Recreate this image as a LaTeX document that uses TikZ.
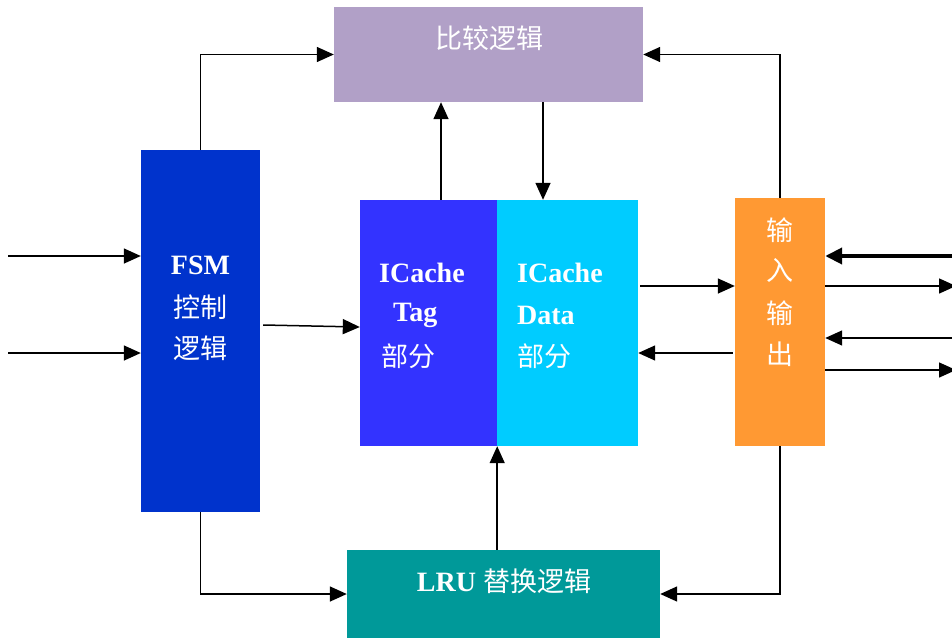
\documentclass[tikz,border=0pt]{standalone}
\usepackage{fontspec}
\setmainfont{Liberation Serif}
\newfontfamily\cjk{Noto Sans CJK SC}
\usetikzlibrary{positioning, arrows.meta, calc}
\definecolor{cmpFill}{RGB}{177,160,199}
\definecolor{fsmFill}{RGB}{0,51,204}
\definecolor{tagFill}{RGB}{51,51,255}
\definecolor{dataFill}{RGB}{0,204,255}
\definecolor{ioFill}{RGB}{255,153,51}
\definecolor{lruFill}{RGB}{0,153,153}
\tikzset{
  BX/.style={draw=none, inner sep=0pt},
  CMP/.style={BX, fill=cmpFill},
  FSM/.style={BX, fill=fsmFill},
  TAG/.style={BX, fill=tagFill},
  DAT/.style={BX, fill=dataFill},
  IO/.style={BX, fill=ioFill},
  LRU/.style={BX, fill=lruFill},
  LT/.style={text=white, inner sep=0pt, font=\fontsize{28}{32}\selectfont\bfseries},
  CT/.style={text=white, inner sep=0pt, font=\fontsize{27}{32}\selectfont\cjk},
  AR/.style={-{Triangle[length=17pt, width=15pt]}, line width=1.5pt, black},
  ARB/.style={-{Triangle[length=17pt, width=16pt]}, line width=4pt, black},
}

\begin{document}
\begin{tikzpicture}[x=1pt, y=1pt, yscale=-1]

\useasboundingbox (0,0) rectangle (952,642);

%% blocks
\node[CMP, minimum width=309pt, minimum height=95pt]  (cmp)  at (488.5,54.5) {};
\node[FSM, minimum width=119pt, minimum height=362pt] (fsm)  at (200.5,331) {};
\node[TAG, minimum width=137pt, minimum height=246pt] (tag)  at (428.5,323) {};
\node[DAT, minimum width=141pt, minimum height=246pt] (data) at (567.5,323) {};
\node[IO,  minimum width=90pt,  minimum height=248pt] (io)   at (780,322) {};
\node[LRU, minimum width=313pt, minimum height=88pt]  (lru)  at (503.5,594) {};

%% texts
\node[CT] at (489,38) {比较逻辑};
\node[LT] at (200.5,265) {FSM};
\node[CT] at (200.5,307) {控制};
\node[CT] at (200.5,348) {逻辑};
\node[LT, anchor=west] at (379,273) {ICache};
\node[LT, anchor=west] at (393,315) {Tag};
\node[CT, anchor=west] at (381,356) {部分};
\node[LT, anchor=west] at (517,273) {ICache};
\node[LT, anchor=west] at (517,315) {Data};
\node[CT, anchor=west] at (517,356) {部分};
\node[CT] at (780,230) {输};
\node[CT] at (780,270) {入};
\node[CT] at (780,313) {输};
\node[CT] at (780,354) {出};
\node[text=white, inner sep=0pt] at (504,581)
  {\fontsize{28}{32}\selectfont\bfseries LRU {\cjk\mdseries\fontsize{27}{32}\selectfont 替换逻辑}};

%% free ends
\coordinate (in1) at (8,256);
\coordinate (in2) at (8,353);
\coordinate (r1) at (952,256);
\coordinate (r2) at (956,286);
\coordinate (r3) at (952,338);
\coordinate (r4) at (956,370);

%% connectors
\draw[AR] (in1) -- (in1 -| fsm.west);
\draw[AR] (in2) -- (in2 -| fsm.west);
\draw[AR] (fsm.north) |- (cmp.west);
\draw[AR] (io.north) |- (cmp.east);
\draw[AR] (fsm.south) |- (lru.west);
\draw[AR] (io.south) |- (lru.east);
\draw[AR] ([xshift=12.5pt]tag.north) -- ([xshift=12.5pt]tag.north |- cmp.south);
\draw[AR] ([xshift=-24.5pt]data.north |- cmp.south) -- ([xshift=-24.5pt]data.north);
\draw[AR] (tag.south east |- lru.north) -- (tag.south east);
\draw[AR] ([shift={(3pt,-6pt)}]fsm.east) -- ([yshift=4pt]tag.west);
\draw[AR] ([shift={(2pt,-37pt)}]data.east) -- ([yshift=-37pt]data.east -| io.west);
\draw[AR] ([shift={(-2pt,31pt)}]io.west) -- ([yshift=31pt]io.west -| data.east);
\draw[ARB] (r1) -- (r1 -| io.east);
\draw[AR] (r2 -| io.east) -- (r2);
\draw[AR] (r3) -- (r3 -| io.east);
\draw[AR] (r4 -| io.east) -- (r4);

\end{tikzpicture}
\end{document}
